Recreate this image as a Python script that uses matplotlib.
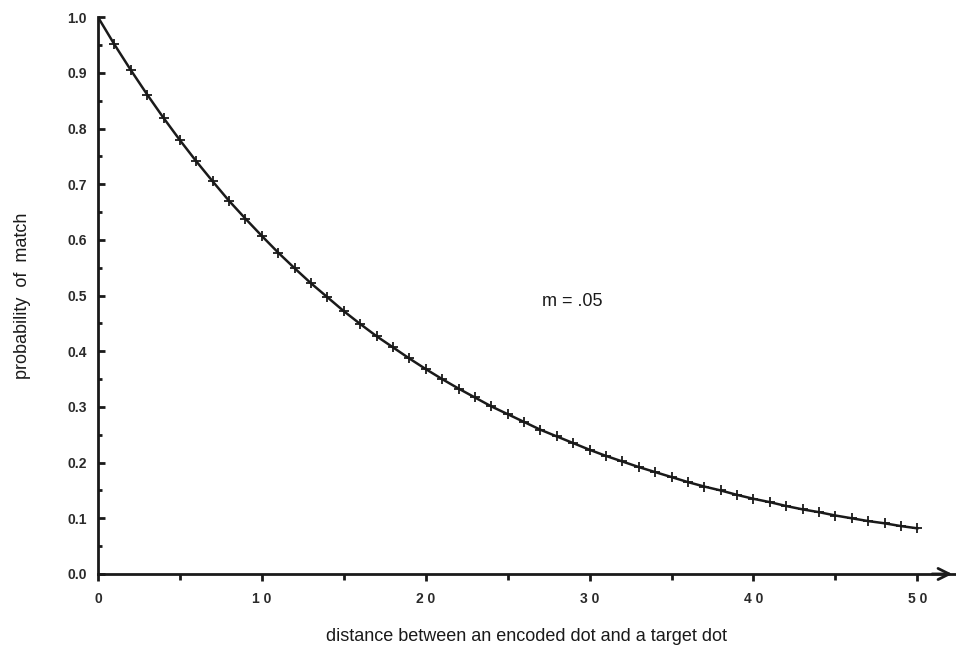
import matplotlib
matplotlib.use('Agg')
import matplotlib.pyplot as plt
from matplotlib.ticker import MultipleLocator

plt.rcParams['font.family'] = ['Liberation Sans', 'DejaVu Sans']

# distance (x) and probability of match (y)
distance = list(range(0, 51))
prob = [1.000, 0.951, 0.905, 0.861, 0.819, 0.779, 0.741, 0.705, 0.670, 0.638,
        0.607, 0.577, 0.549, 0.522, 0.497, 0.472, 0.449, 0.427, 0.407, 0.387,
        0.368, 0.350, 0.333, 0.317, 0.301, 0.287, 0.273, 0.259, 0.247, 0.235,
        0.223, 0.212, 0.202, 0.192, 0.183, 0.174, 0.165, 0.157, 0.150, 0.142,
        0.135, 0.129, 0.122, 0.116, 0.111, 0.105, 0.100, 0.095, 0.091, 0.086,
        0.082]

fig = plt.figure(figsize=(9.56, 6.49), dpi=100)
ax = fig.add_axes([0.1025, 0.1156, 0.8965, 0.858])

ax.plot(distance, prob, color='#1a1a1a', linewidth=1.8,
        marker='+', markersize=7, markeredgewidth=1.3)

ax.set_xlim(0, 52.3)
ax.set_ylim(0, 1.0)

ax.spines['top'].set_visible(False)
ax.spines['right'].set_visible(False)
for s in ['left', 'bottom']:
    ax.spines[s].set_linewidth(2)
    ax.spines[s].set_color('#1a1a1a')

# arrow head at end of x axis
ax.annotate('', xy=(1.0, 0), xytext=(0.97, 0), xycoords='axes fraction',
            arrowprops=dict(arrowstyle='->', color='#1a1a1a', lw=2,
                            mutation_scale=20), annotation_clip=False)

ax.xaxis.set_major_locator(MultipleLocator(10))
ax.xaxis.set_minor_locator(MultipleLocator(5))
ax.yaxis.set_major_locator(MultipleLocator(0.1))
ax.yaxis.set_minor_locator(MultipleLocator(0.05))
ax.set_xticks([0, 10, 20, 30, 40, 50])
ax.set_xticklabels(['0', '1 0', '2 0', '3 0', '4 0', '5 0'], fontweight='bold')
ax.set_yticklabels(['%.1f' % v for v in ax.get_yticks()], fontweight='bold')

ax.tick_params(axis='x', which='major', direction='out', length=5, width=2,
               labelsize=10, pad=8, color='#1a1a1a', labelcolor='#2a2a2a')
ax.tick_params(axis='x', which='minor', direction='out', length=4, width=2,
               color='#1a1a1a')
ax.tick_params(axis='y', which='major', direction='in', length=5, width=2,
               labelsize=10, pad=8, color='#1a1a1a', labelcolor='#2a2a2a')
ax.tick_params(axis='y', which='minor', direction='in', length=3, width=2,
               color='#1a1a1a')

ax.set_xlabel('distance between an encoded dot and a target dot',
              fontsize=13, labelpad=16, color='#1a1a1a')
ax.set_ylabel('probability  of  match', fontsize=13, labelpad=26,
              color='#1a1a1a')

ax.text(27.1, 0.49, 'm = .05', fontsize=13, va='center', ha='left',
        color='#1a1a1a')

plt.savefig('out.png', dpi=100)
